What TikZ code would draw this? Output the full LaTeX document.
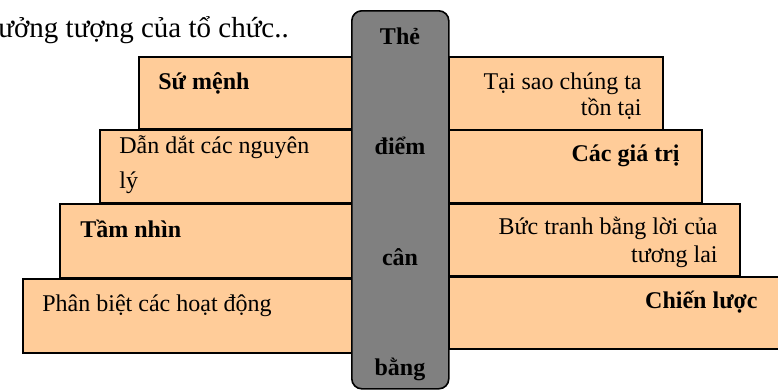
\documentclass[tikz,border=0pt]{standalone}
\usepackage{fontspec}
\setmainfont{Liberation Serif}

\definecolor{peach}{HTML}{FFCC99}
\definecolor{barGray}{HTML}{808080}

\tikzset{
  stair/.style={draw=black, line width=1pt, fill=peach, inner sep=0pt,
    anchor=north west},
  barBox/.style={draw=black, line width=0.8pt, fill=barGray,
    rounded corners=5pt, inner sep=0pt, anchor=north west},
  boxText/.style={font=\fontsize{12}{13}\selectfont, inner sep=0pt},
  barText/.style={font=\fontsize{12}{13.5}\selectfont\bfseries, inner sep=0pt,
    anchor=base}
}

\begin{document}
\begin{tikzpicture}[x=0.5pt, y=-0.5pt]
  \useasboundingbox (0,0) rectangle (778,391);

  % Line of the page above the picture
  \node[font=\fontsize{14.5}{17}\selectfont, inner sep=0pt, anchor=base west]
    (pageLine) at (-2,38) {ưởng tượng của tổ chức..};

  % Left stairs
  \node[stair, minimum width=106.5pt, minimum height=36pt] (suMenh) at (138,56) {};
  \node[stair, minimum width=126pt, minimum height=36.5pt] (danDat) at (99,129) {};
  \node[stair, minimum width=146pt, minimum height=37pt] (tamNhin) at (59,203) {};
  \node[stair, minimum width=164.5pt, minimum height=37pt] (phanBiet) at (22,278) {};

  % Right stairs
  \node[stair, minimum width=107pt, minimum height=36.5pt] (taiSao) at (448,56) {};
  \node[stair, minimum width=126.5pt, minimum height=36.5pt] (giaTri) at (448,129) {};
  \node[stair, minimum width=145.5pt, minimum height=36pt] (bucTranh) at (448,203) {};
  \node[stair, minimum width=166pt, minimum height=36pt] (chienLuoc) at (448,276) {};

  % The balance bar
  \node[barBox, minimum width=48.5pt, minimum height=189pt] (bar) at (351,10) {};
  \node[barText] (barThe)  at (400,44)  {Thẻ};
  \node[barText] (barDiem) at (400,155) {điểm};
  \node[barText] (barCan)  at (400,265) {cân};
  \node[barText] (barBang) at (400,375) {bằng};

  % Left texts (base = last line)
  \node[boxText, anchor=base west, font=\fontsize{12}{13.5}\selectfont\bfseries]
    (suMenhText) at (158,90) {Sứ mệnh};
  \node[boxText, anchor=base west, font=\fontsize{12}{17.5}\selectfont, align=left]
    (danDatText) at (119,188) {Dẫn dắt các nguyên\\lý};
  \node[boxText, anchor=base west, font=\fontsize{12}{13.5}\selectfont\bfseries]
    (tamNhinText) at (80,237) {Tầm nhìn};
  \node[boxText, anchor=base west]
    (phanBietText) at (42,311) {Phân biệt các hoạt động};

  % Right texts
  \node[boxText, anchor=base east, align=right]
    (taiSaoText) at (642,115) {Tại sao chúng ta\\tồn tại};
  \node[boxText, anchor=base east, font=\fontsize{12}{13.5}\selectfont\bfseries]
    (giaTriText) at (680,162) {Các giá trị};
  \node[boxText, anchor=base east, font=\fontsize{12}{14}\selectfont, align=right]
    (bucTranhText) at (718,262) {Bức tranh bằng lời của\\tương lai};
  \node[boxText, anchor=base east, font=\fontsize{12}{13.5}\selectfont\bfseries]
    (chienLuocText) at (758,308) {Chiến lược};

\end{tikzpicture}
\end{document}
